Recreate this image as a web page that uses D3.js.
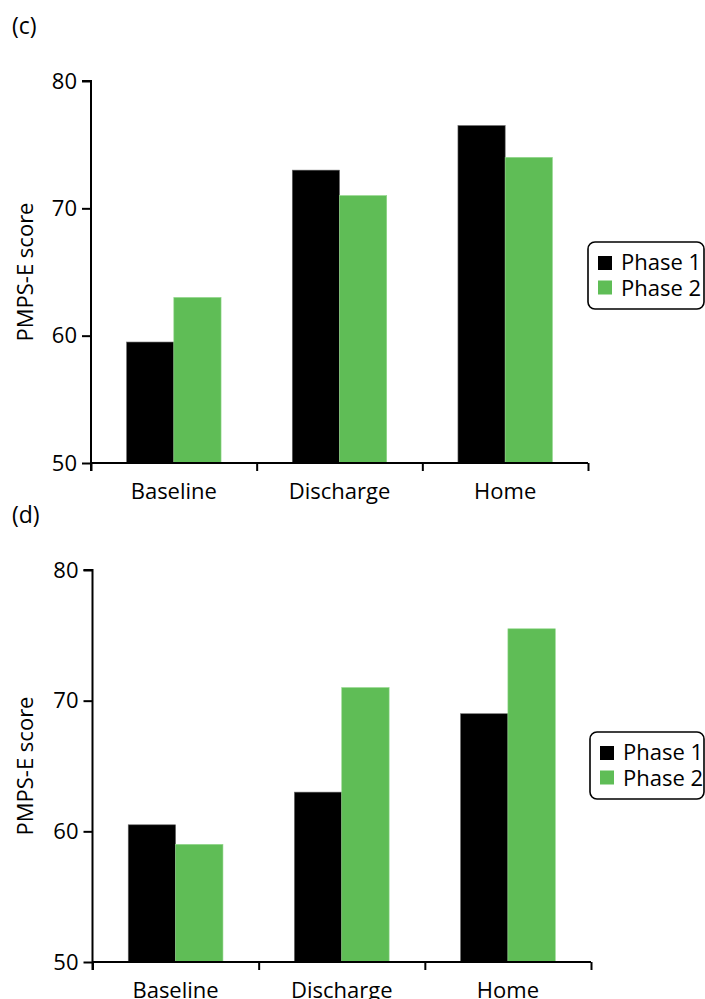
<!DOCTYPE html>
<html><head><meta charset="utf-8">
<script src="https://cdn.jsdelivr.net/npm/d3@7"></script>
<style>body{margin:0;background:#fff}svg{display:block}text{font-family:"Open Sans",sans-serif;fill:#000}</style>
</head><body><svg id="c" width="705" height="999"></svg>
<script>
const categories = ["Baseline", "Discharge", "Home"];
const series = ["Phase 1", "Phase 2"];
const panelC_phase1 = [59.5, 73, 76.5];
const panelC_phase2 = [63, 71, 74];
const panelD_phase1 = [60.5, 63, 69];
const panelD_phase2 = [59, 71, 75.5];
const yTicks = [50, 60, 70, 80];
const colors = ["#000000", "#5fbd56"];

const svg = d3.select("#c");

function panel(opts) {
  const {label, p1, p2, x0, x1, yTop, yBot, labelY, legend} = opts;
  const g = svg.append("g");
  const y = d3.scaleLinear().domain([50, 80]).range([yBot, yTop]);
  const xb = d3.scaleBand().domain(categories).range([x0, x1]).paddingInner(0.43).paddingOuter(0.215);
  const xs = d3.scaleBand().domain(series).range([0, xb.bandwidth()]);
  const idx = d3.scaleLinear().domain([0, 3]).range([x0, x1]);

  g.append("text").attr("x", 12).attr("y", labelY).attr("font-size", 23).text(label);

  const data = categories.map((c, i) => ({c, vals: [p1[i], p2[i]]}));
  data.forEach(d => {
    d.vals.forEach((v, j) => {
      g.append("rect")
        .attr("x", xb(d.c) + xs(series[j]))
        .attr("y", y(v))
        .attr("width", xs.bandwidth())
        .attr("height", y(50) - y(v))
        .attr("fill", colors[j])
        .attr("stroke", j === 0 ? "#666" : "#8fd688")
        .attr("stroke-width", 0.6);
    });
  });

  // y axis
  const ya = g.append("g").attr("transform", `translate(${x0},0)`)
    .call(d3.axisLeft(y).tickValues(yTicks).tickSize(9).tickPadding(5).tickFormat(d3.format("d")));
  ya.select(".domain").attr("stroke-width", 2).attr("d", `M-9,${yTop}H0V${yBot + 8}`);
  ya.selectAll(".tick line").attr("stroke-width", 2);
  ya.selectAll(".tick text").attr("font-size", 22).attr("font-family", "Open Sans").attr("fill", "#000");

  // x axis
  const xa = g.append("g").attr("transform", `translate(0,${yBot})`)
    .call(d3.axisBottom(idx).tickValues([0, 1, 2, 3]).tickSize(8).tickFormat(""));
  xa.select(".domain").attr("stroke-width", 2).attr("d", `M${x0},0H${x1}`);
  xa.selectAll(".tick line").attr("stroke-width", 2);

  g.selectAll(".cat").data(categories).join("text")
    .attr("x", d => xb(d) + xb.bandwidth() / 2)
    .attr("y", yBot + 36)
    .attr("text-anchor", "middle").attr("font-size", 22)
    .text(d => d);

  g.append("text")
    .attr("transform", `translate(33,${(yTop + yBot) / 2}) rotate(-90)`)
    .attr("text-anchor", "middle").attr("font-size", 22)
    .text("PMPS-E score");

  // legend
  const lg = g.append("g").attr("transform", `translate(${legend.x},${legend.y})`);
  lg.append("rect").attr("x", 0).attr("y", 0).attr("width", legend.w).attr("height", 67)
    .attr("rx", 7).attr("fill", "#fff").attr("stroke", "#000").attr("stroke-width", 1.6);
  series.forEach((s, j) => {
    lg.append("rect").attr("x", 10).attr("y", 14 + j * 24.5).attr("width", 14).attr("height", 14).attr("fill", colors[j]);
    lg.append("text").attr("x", 33).attr("y", 28 + j * 25.5).attr("font-size", 22).text(s);
  });
}

panel({label: "(c)", p1: panelC_phase1, p2: panelC_phase2, x0: 91, x1: 588, yTop: 81, yBot: 463, labelY: 34, legend: {x: 588, y: 242, w: 116}});
panel({label: "(d)", p1: panelD_phase1, p2: panelD_phase2, x0: 92.5, x1: 591, yTop: 570, yBot: 962, labelY: 523, legend: {x: 590, y: 732, w: 114}});
</script></body></html>
